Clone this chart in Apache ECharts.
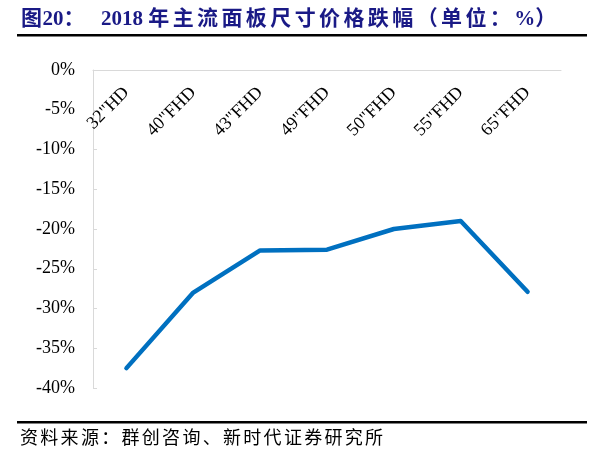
<!DOCTYPE html>
<html><head><meta charset="utf-8">
<script src="https://cdn.jsdelivr.net/npm/echarts@6/dist/echarts.min.js"></script>
<style>html,body{margin:0;padding:0;background:#fff}#c{width:598px;height:456px}</style>
</head><body><div id="c"></div>
<script>
const categories = ['32"HD','40"FHD','43"FHD','49"FHD','50"FHD','55"FHD','65"FHD'];
const priceDrop = [-37.5, -28.0, -22.7, -22.6, -20.0, -19.0, -27.9];
const yTicks = {min: -40, max: 0, interval: 5};
const titleLead = '图20：';
const titleMain = '2018 年主流面板尺寸价格跌幅（单位：%）';
const sourceText = '资料来源：群创咨询、新时代证券研究所';

const serif = '"Liberation Serif","Noto Sans CJK SC",serif';
const ctx = document.createElement('canvas').getContext('2d');
function spacedText(str, x, yMid, font, spacing, fill) {
  ctx.font = font;
  const els = [];
  let cx = x;
  for (const ch of str) {
    els.push({type: 'text', x: cx, y: yMid, style: {text: ch, font: font, fill: fill, verticalAlign: 'middle', align: 'left'}});
    const wide = ch.charCodeAt(0) > 255;
    cx += ctx.measureText(ch).width + (wide ? spacing : 0);
  }
  return els;
}

const chart = echarts.init(document.getElementById('c'));
chart.setOption({
  animation: false,
  grid: {left: 93, right: 37, top: 70, bottom: 68, containLabel: false},
  xAxis: {
    type: 'category', data: categories, boundaryGap: true, position: 'top',
    axisLine: {lineStyle: {color: '#d9d9d9', width: 1}},
    axisTick: {show: false},
    axisLabel: {inside: true, rotate: 45, margin: 20, fontFamily: serif, fontSize: 18, color: '#000', interval: 0}
  },
  yAxis: {
    type: 'value', min: yTicks.min, max: yTicks.max, interval: yTicks.interval,
    axisLine: {show: true, lineStyle: {color: '#d9d9d9', width: 1}},
    axisTick: {show: true, inside: true, length: 4, lineStyle: {color: '#d9d9d9'}},
    splitLine: {show: false},
    axisLabel: {formatter: v => v + '%', margin: 18, fontFamily: serif, fontSize: 18, color: '#000'}
  },
  series: [{
    type: 'line', data: priceDrop, symbol: 'none',
    lineStyle: {color: '#0070C0', width: 4.5, cap: 'round', join: 'round'}
  }],
  graphic: [].concat(
    spacedText(titleLead, 21, 20, 'bold 21px ' + serif, 0.5, '#1a1a86'),
    spacedText(titleMain, 101, 20, 'bold 21px ' + serif, 3.4, '#1a1a86'),
    [
      {type: 'rect', shape: {x: 17, y: 34, width: 570, height: 2.5}, style: {fill: '#000'}},
      {type: 'rect', shape: {x: 17, y: 421, width: 570, height: 2.5}, style: {fill: '#000'}}
    ],
    spacedText(sourceText, 20, 439, '18px ' + serif, 2.3, '#000')
  )
});
</script></body></html>
